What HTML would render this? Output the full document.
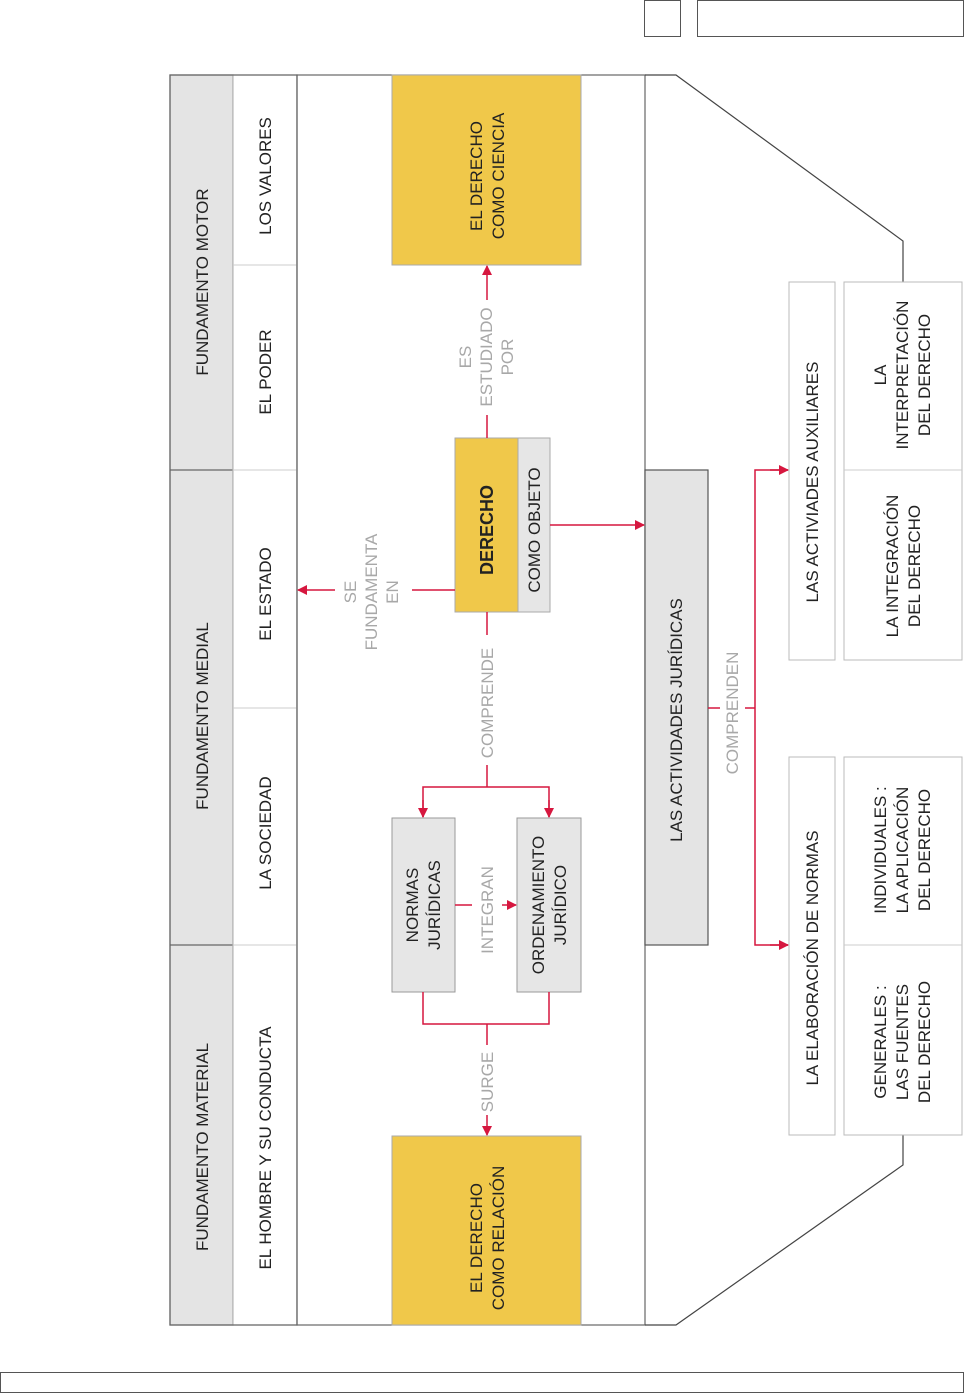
<!DOCTYPE html>
<html><head><meta charset="utf-8"><style>
html,body{margin:0;padding:0;background:#fff;}
svg{display:block;}
text{font-family:"Liberation Sans Narrow","Liberation Sans",sans-serif;font-size:17px;fill:#222;}
.g{fill:#a8a8a8;}
</style></head><body>
<svg width="965" height="1394" viewBox="0 0 965 1394" xmlns="http://www.w3.org/2000/svg">
<defs><marker id="a" markerWidth="10" markerHeight="10" refX="9" refY="5" orient="auto" markerUnits="userSpaceOnUse"><path d="M0,0 L10,5 L0,10 z" fill="#d6173f"/></marker></defs>
<g fill="none" stroke="#555" stroke-width="1">
<rect x="644.5" y="0.5" width="36" height="36"/>
<rect x="697.5" y="0.5" width="266" height="36"/>
<rect x="0.5" y="1372.5" width="963" height="20"/>
</g>
<g stroke="#666" stroke-width="1.2">
<rect x="170" y="75" width="63" height="1250" fill="#e4e4e4"/>
<line x1="170" y1="470" x2="233" y2="470"/><line x1="170" y1="945" x2="233" y2="945"/>
<rect x="233" y="75" width="64" height="1250" fill="#fff" stroke="#bbb"/>
<rect x="297" y="75" width="348" height="1250" fill="#fff"/>
</g>
<g stroke="#ccc"><line x1="233" y1="265" x2="297" y2="265"/><line x1="233" y1="470" x2="297" y2="470"/><line x1="233" y1="708" x2="297" y2="708"/><line x1="233" y1="945" x2="297" y2="945"/></g>
<rect x="170" y="75" width="127" height="1250" fill="none" stroke="#666" stroke-width="1.2"/>
<polyline points="645,75 676,75 903,241 903,282" fill="none" stroke="#444" stroke-width="1.2"/>
<polyline points="645,1325 676,1325 903,1165 903,1135" fill="none" stroke="#444" stroke-width="1.2"/>
<rect x="392" y="75" width="189" height="190" fill="#f0c84a" stroke="#aaa"/>
<rect x="392" y="1136" width="189" height="189" fill="#f0c84a" stroke="#aaa"/>
<rect x="455" y="438" width="63" height="174" fill="#f0c84a" stroke="#aaa"/>
<rect x="518" y="438" width="32" height="174" fill="#e6e6e6" stroke="#aaa"/>
<rect x="392" y="818" width="63" height="174" fill="#e6e6e6" stroke="#999"/>
<rect x="517" y="818" width="64" height="174" fill="#e6e6e6" stroke="#999"/>
<rect x="645" y="470" width="63" height="475" fill="#e4e4e4" stroke="#555" stroke-width="1.2"/>
<g fill="#fff" stroke="#bbb">
<rect x="789" y="282" width="46" height="378"/>
<rect x="844" y="282" width="118" height="378"/>
<rect x="789" y="757" width="46" height="378"/>
<rect x="844" y="757" width="118" height="378"/>
</g>
<g stroke="#ccc"><line x1="844" y1="470" x2="962" y2="470"/><line x1="844" y1="945" x2="962" y2="945"/></g>
<g stroke="#d6173f" stroke-width="1.5" fill="none">
<line x1="487" y1="438" x2="487" y2="415"/><line x1="487" y1="300" x2="487" y2="266" marker-end="url(#a)"/>
<line x1="455" y1="590" x2="412" y2="590"/><line x1="335" y1="590" x2="298" y2="590" marker-end="url(#a)"/>
<line x1="487" y1="612" x2="487" y2="635"/><line x1="487" y1="765" x2="487" y2="787"/>
<polyline points="423,817 423,787 549,787 549,817"/>
<line x1="423" y1="800" x2="423" y2="817" marker-end="url(#a)"/><line x1="549" y1="800" x2="549" y2="817" marker-end="url(#a)"/>
<line x1="455" y1="905" x2="472" y2="905"/><line x1="502" y1="905" x2="516" y2="905" marker-end="url(#a)"/>
<polyline points="423,992 423,1024 549,1024 549,992"/>
<line x1="487" y1="1024" x2="487" y2="1045"/><line x1="487" y1="1115" x2="487" y2="1135" marker-end="url(#a)"/>
<line x1="550" y1="525" x2="644" y2="525" marker-end="url(#a)"/>
<line x1="708" y1="708" x2="720" y2="708"/><line x1="745" y1="708" x2="755" y2="708"/>
<polyline points="788,470 755,470 755,945 788,945"/>
<line x1="770" y1="470" x2="788" y2="470" marker-end="url(#a)"/><line x1="770" y1="945" x2="788" y2="945" marker-end="url(#a)"/>
</g>
<g text-anchor="middle">
<text transform="translate(202,282) rotate(-90)" y="6">FUNDAMENTO MOTOR</text>
<text transform="translate(202,716) rotate(-90)" y="6">FUNDAMENTO MEDIAL</text>
<text transform="translate(202,1147) rotate(-90)" y="6">FUNDAMENTO MATERIAL</text>
<text transform="translate(265,176) rotate(-90)" y="6">LOS VALORES</text>
<text transform="translate(265,372) rotate(-90)" y="6">EL PODER</text>
<text transform="translate(265,594) rotate(-90)" y="6">EL ESTADO</text>
<text transform="translate(265,833) rotate(-90)" y="6">LA SOCIEDAD</text>
<text transform="translate(265,1148) rotate(-90)" y="6">EL HOMBRE Y SU CONDUCTA</text>
<text transform="translate(487,176) rotate(-90)"><tspan x="0" y="-5">EL DERECHO</tspan><tspan x="0" y="17">COMO CIENCIA</tspan></text>
<text transform="translate(487,1238) rotate(-90)"><tspan x="0" y="-5">EL DERECHO</tspan><tspan x="0" y="17">COMO RELACIÓN</tspan></text>
<text transform="translate(487,530) rotate(-90)" y="6" font-weight="bold" style="font-size:18px">DERECHO</text>
<text transform="translate(534,530) rotate(-90)" y="6">COMO OBJETO</text>
<text transform="translate(487,357) rotate(-90)" class="g"><tspan x="0" y="-16">ES</tspan><tspan x="0" y="5">ESTUDIADO</tspan><tspan x="0" y="26">POR</tspan></text>
<text transform="translate(372,592) rotate(-90)" class="g"><tspan x="0" y="-16">SE</tspan><tspan x="0" y="5">FUNDAMENTA</tspan><tspan x="0" y="26">EN</tspan></text>
<text transform="translate(487,703) rotate(-90)" y="6" class="g">COMPRENDE</text>
<text transform="translate(487,910) rotate(-90)" y="6" class="g">INTEGRAN</text>
<text transform="translate(487,1082) rotate(-90)" y="6" class="g">SURGE</text>
<text transform="translate(732,713) rotate(-90)" y="6" class="g">COMPRENDEN</text>
<text transform="translate(423,905) rotate(-90)"><tspan x="0" y="-5">NORMAS</tspan><tspan x="0" y="17">JURÍDICAS</tspan></text>
<text transform="translate(549,905) rotate(-90)"><tspan x="0" y="-5">ORDENAMIENTO</tspan><tspan x="0" y="17">JURÍDICO</tspan></text>
<text transform="translate(676,720) rotate(-90)" y="6">LAS ACTIVIDADES JURÍDICAS</text>
<text transform="translate(812,482) rotate(-90)" y="6">LAS ACTIVIADES AUXILIARES</text>
<text transform="translate(812,958) rotate(-90)" y="6">LA ELABORACIÓN DE NORMAS</text>
<text transform="translate(903,375) rotate(-90)"><tspan x="0" y="-17">LA</tspan><tspan x="0" y="5">INTERPRETACIÓN</tspan><tspan x="0" y="27">DEL DERECHO</tspan></text>
<text transform="translate(903,566) rotate(-90)"><tspan x="0" y="-5">LA INTEGRACIÓN</tspan><tspan x="0" y="17">DEL DERECHO</tspan></text>
<text transform="translate(903,850) rotate(-90)"><tspan x="0" y="-17">INDIVIDUALES  :</tspan><tspan x="0" y="5">LA APLICACIÓN</tspan><tspan x="0" y="27">DEL  DERECHO</tspan></text>
<text transform="translate(903,1042) rotate(-90)"><tspan x="0" y="-17">GENERALES  :</tspan><tspan x="0" y="5">LAS FUENTES</tspan><tspan x="0" y="27">DEL DERECHO</tspan></text>
</g>
</svg>
</body></html>
